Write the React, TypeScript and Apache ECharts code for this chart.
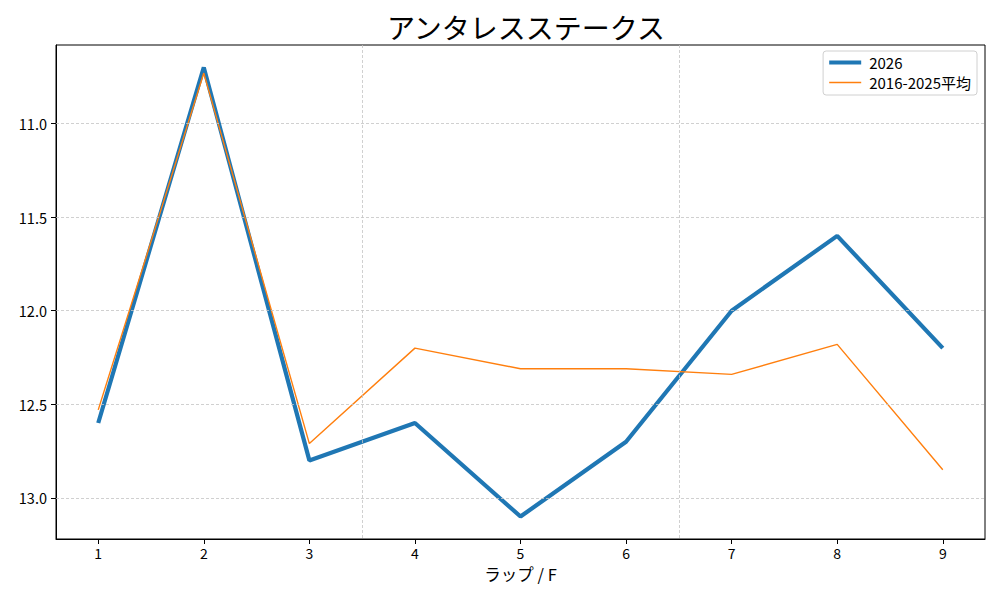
import React, { useEffect, useRef } from "react";
import * as echarts from "echarts";

const laps = [1, 2, 3, 4, 5, 6, 7, 8, 9];
const series2026 = [12.6, 10.7, 12.8, 12.6, 13.1, 12.7, 12.0, 11.6, 12.2];
const seriesAvg = [12.53, 10.73, 12.71, 12.2, 12.31, 12.31, 12.34, 12.18, 12.85];
const yTicks = [11.0, 11.5, 12.0, 12.5, 13.0];
const sectionBreaks = [3.5, 6.5];
const titleText = "アンタレスステークス";
const xName = "ラップ / F";
const name2026 = "2026";
const nameAvg = "2016-2025平均";

const FONT = "'Noto Sans CJK JP', 'DejaVu Sans', sans-serif";
const WIDTH_2026 = 4.2;
const WIDTH_AVG = 1.4;

export default function App() {
  const ref = useRef<HTMLDivElement>(null);
  useEffect(() => {
    if (!ref.current) return;
    const chart = echarts.init(ref.current, undefined, { renderer: "svg" });
    const allY = [...series2026, ...seriesAvg];
    const yMin = Math.min(...allY);
    const yMax = Math.max(...allY);
    const yPad = (yMax - yMin) * 0.05;
    const xMin = Math.min(...laps);
    const xMax = Math.max(...laps);
    const xPad = (xMax - xMin) * 0.05;
    const gridStyle = { color: "#c4c4c4", width: 0.8, type: [3, 2] as any };

    chart.setOption({
      animation: false,
      backgroundColor: "#ffffff",
      textStyle: { fontFamily: FONT },
      title: {
        text: titleText,
        left: 521,
        textAlign: "center",
        top: 8,
        textStyle: { fontSize: 28, fontWeight: "normal", color: "#000", fontFamily: FONT },
      },
      legend: {
        data: [
          { name: name2026, lineStyle: { width: WIDTH_2026, color: "#1f77b4" } },
          { name: nameAvg, lineStyle: { width: WIDTH_AVG, color: "#ff7f0e" } },
        ],
        orient: "vertical",
        right: 23,
        top: 51,
        padding: [4, 6, 5, 4],
        itemGap: 5,
        itemWidth: 32,
        itemHeight: 14,
        itemStyle: { opacity: 0 },
        borderColor: "#d0d0d0",
        borderWidth: 1,
        borderRadius: 3,
        backgroundColor: "rgba(255,255,255,0.8)",
        textStyle: { fontSize: 15, color: "#000", fontFamily: FONT, padding: [0, 0, 0, 3] },
      },
      grid: {
        left: 56,
        right: 15,
        top: 45,
        bottom: 61,
        show: true,
        borderColor: "#000",
        borderWidth: 1,
        backgroundColor: "transparent",
      },
      xAxis: {
        type: "value",
        min: xMin - xPad,
        max: xMax + xPad,
        name: xName,
        nameLocation: "middle",
        nameGap: 27,
        nameTextStyle: { fontSize: 16.5, color: "#000", fontFamily: FONT },
        axisLine: { show: true, lineStyle: { color: "#000", width: 1 } },
        axisTick: { show: true, length: 5, customValues: laps, lineStyle: { color: "#000" } },
        axisLabel: {
          customValues: laps,
          margin: 7,
          fontSize: 14,
          color: "#000",
          fontFamily: FONT,
        },
        splitLine: { show: false },
      },
      yAxis: {
        type: "value",
        inverse: true,
        min: yMin - yPad,
        max: yMax + yPad,
        axisLine: { show: true, lineStyle: { color: "#000", width: 1 } },
        axisTick: { show: true, length: 5, customValues: yTicks, lineStyle: { color: "#000" } },
        axisLabel: {
          customValues: yTicks,
          margin: 9,
          fontSize: 14.5,
          color: "#000",
          fontFamily: FONT,
          formatter: (v: number) => v.toFixed(1),
        },
        splitLine: { show: false },
      },
      series: [
        {
          name: "grid",
          type: "line",
          data: [],
          z: 1,
          silent: true,
          markLine: {
            silent: true,
            symbol: "none",
            label: { show: false },
            lineStyle: gridStyle,
            data: [
              ...yTicks.map((v) => ({ yAxis: v })),
              ...sectionBreaks.map((v) => ({ xAxis: v })),
            ],
          },
        },
        {
          name: name2026,
          type: "line",
          z: 3,
          data: laps.map((x, i) => [x, series2026[i]]),
          showSymbol: false,
          symbol: "none",
          color: "#1f77b4",
          lineStyle: { color: "#1f77b4", width: WIDTH_2026 },
        },
        {
          name: nameAvg,
          type: "line",
          z: 4,
          data: laps.map((x, i) => [x, seriesAvg[i]]),
          showSymbol: false,
          symbol: "none",
          color: "#ff7f0e",
          lineStyle: { color: "#ff7f0e", width: WIDTH_AVG },
        },
      ],
    });
    return () => chart.dispose();
  }, []);
  return (
    <div
      ref={ref}
      style={{ position: "absolute", left: 0, top: 0, width: 1000, height: 600, background: "#fff" }}
    />
  );
}
